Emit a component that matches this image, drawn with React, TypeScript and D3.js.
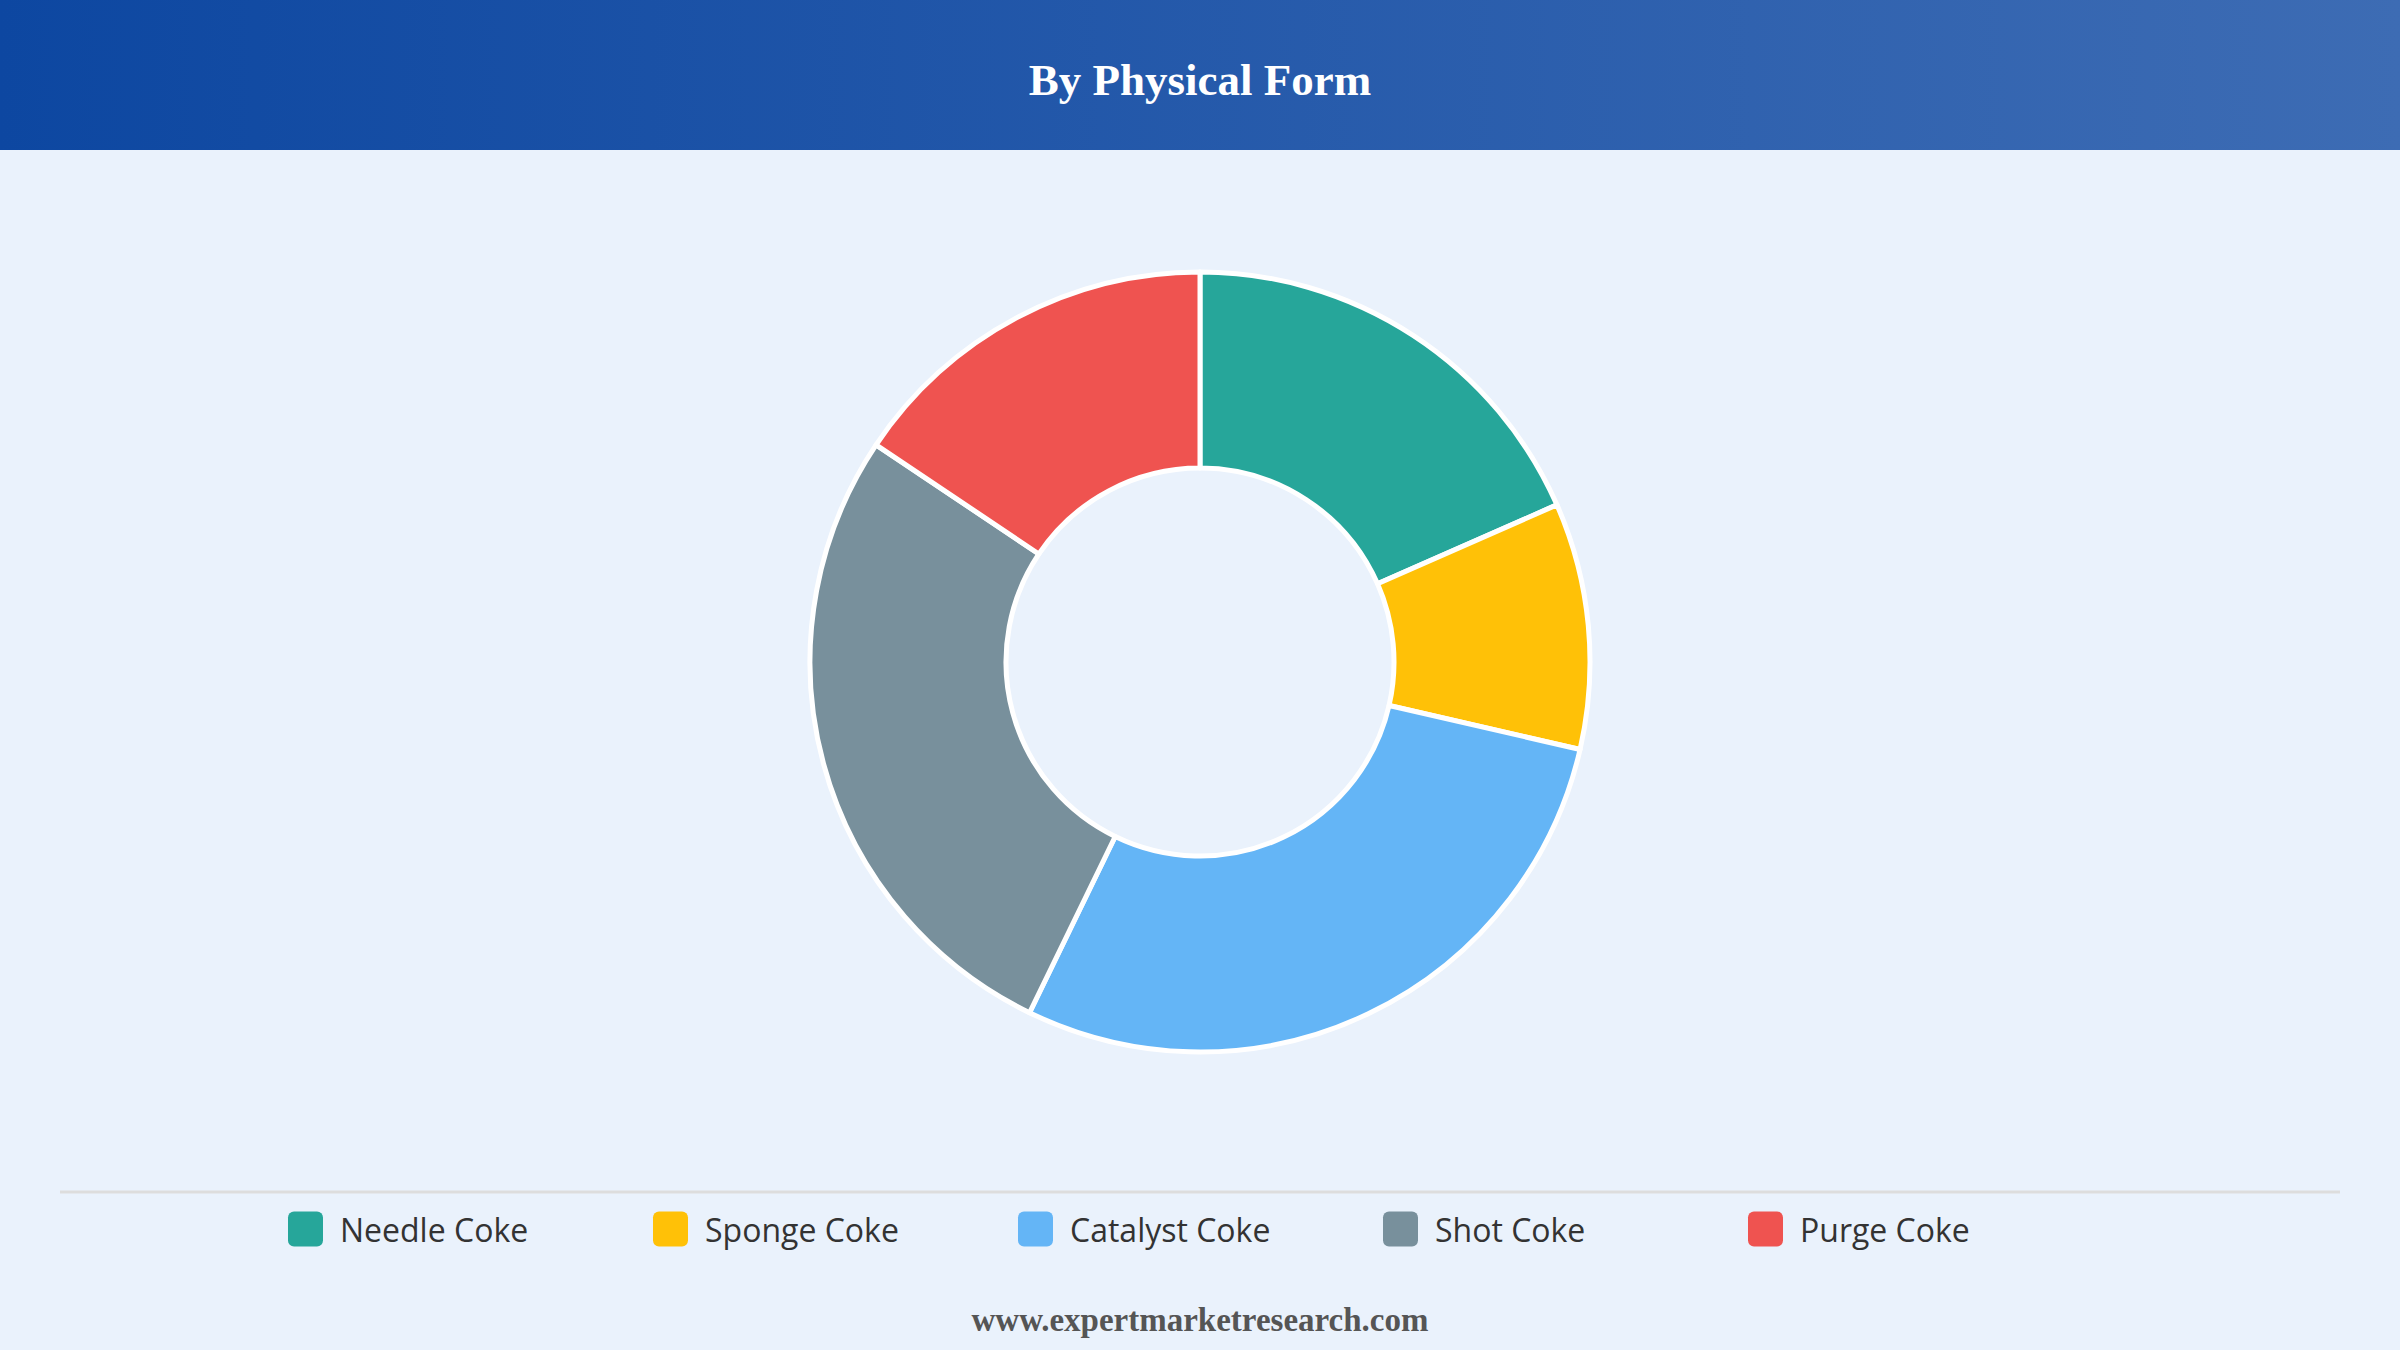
import * as d3 from 'd3';

const CATEGORIES = ['Needle Coke', 'Sponge Coke', 'Catalyst Coke', 'Shot Coke', 'Purge Coke'];
const SHARES = [18.4, 10.2, 28.6, 27.2, 15.6];
const COLORS = ['#26a69a', '#ffc107', '#64b5f6', '#78909c', '#ef5350'];

const TITLE = 'By Physical Form';
const SOURCE = 'www.expertmarketresearch.com';

export default function App() {
  const W = 2400;
  const H = 1350;
  const cx = 1200;
  const cy = 662;
  const outerR = 390;
  const innerR = 194;

  const pie = d3.pie<number>().sort(null).value(d => d);
  const arcs = pie(SHARES);
  const arc = d3.arc<d3.PieArcDatum<number>>().innerRadius(innerR).outerRadius(outerR);

  const color = d3.scaleOrdinal<string, string>().domain(CATEGORIES).range(COLORS);

  const legendX = d3.scaleBand()
    .domain(CATEGORIES)
    .range([288, 288 + 365 * CATEGORIES.length]);

  const legendY = 1229;
  const sw = 35;

  return (
    <svg
      width={W}
      height={H}
      style={{ position: 'absolute', top: 0, left: 0, display: 'block' }}
    >
      <defs>
        <linearGradient id="hdr" x1="0" x2="1" y1="0" y2="0">
          <stop offset="0%" stopColor="#0d47a1" />
          <stop offset="100%" stopColor="#3d6cb4" />
        </linearGradient>
      </defs>

      {/* Background */}
      <rect x={0} y={0} width={W} height={H} fill="#eaf2fc" />

      {/* Header */}
      <rect x={0} y={0} width={W} height={150} fill="url(#hdr)" />
      <text
        x={W / 2}
        y={95}
        textAnchor="middle"
        fontFamily="'Liberation Serif', 'Times New Roman', serif"
        fontWeight={700}
        fontSize={45}
        fill="#ffffff"
      >
        {TITLE}
      </text>

      {/* Donut */}
      <g transform={`translate(${cx},${cy})`}>
        {arcs.map((a, i) => (
          <path
            key={CATEGORIES[i]}
            d={arc(a) ?? ''}
            fill={color(CATEGORIES[i])}
            stroke="#ffffff"
            strokeWidth={5}
            strokeLinejoin="round"
          />
        ))}
      </g>

      {/* Separator */}
      <line x1={60} x2={2340} y1={1192} y2={1192} stroke="#dddddd" strokeWidth={3} />

      {/* Legend */}
      {CATEGORIES.map(c => {
        const x = legendX(c) ?? 0;
        return (
          <g key={c}>
            <rect
              x={x}
              y={legendY - sw / 2}
              width={sw}
              height={sw}
              rx={6}
              fill={color(c)}
            />
            <text
              x={x + 52}
              y={legendY}
              dominantBaseline="central"
              fontFamily="'Open Sans', 'Noto Sans', sans-serif"
              fontSize={32}
              fontWeight={500}
              fill="#333333"
            >
              {c}
            </text>
          </g>
        );
      })}

      {/* Source */}
      <text
        x={W / 2}
        y={1331}
        textAnchor="middle"
        fontFamily="'Liberation Serif', 'Times New Roman', serif"
        fontWeight={700}
        fontSize={33}
        fill="#555555"
      >
        {SOURCE}
      </text>
    </svg>
  );
}
